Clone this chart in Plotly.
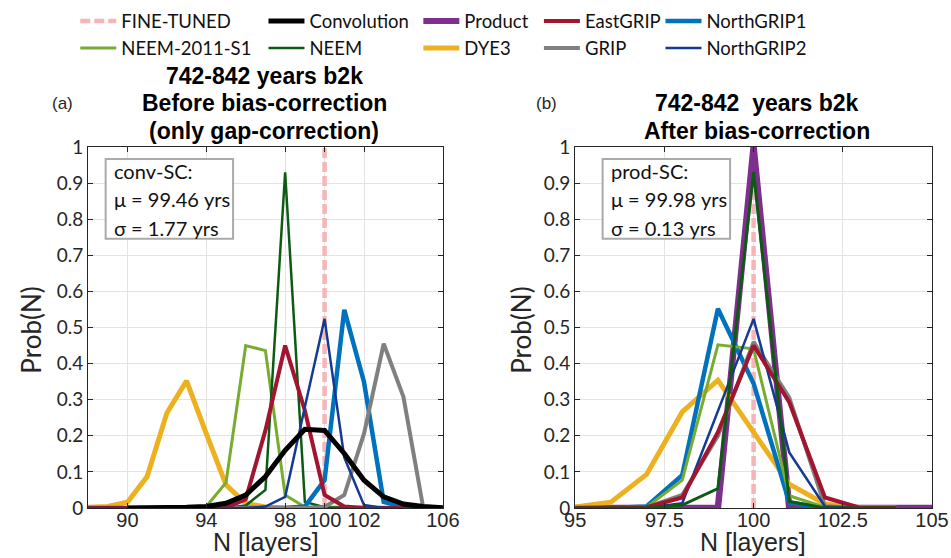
import plotly.graph_objects as go

# ---------------------------------------------------------------
# Layer-count probability distributions, 742-842 years b2k
# ---------------------------------------------------------------

# Panel (a): before bias-correction (only gap-correction)
n_left = [88, 89, 90, 91, 92, 93, 94, 95, 96, 97, 98, 99, 100, 101, 102, 103, 104, 105, 106]
left_dye3 = [0.002, 0.004, 0.016, 0.087, 0.263, 0.352, 0.206, 0.064, 0.013, 0.003, 0, 0, 0, 0, 0, 0, 0, 0, 0]
left_neem_s1 = [0, 0, 0, 0, 0, 0, 0.004, 0.07, 0.45, 0.436, 0.036, 0.003, 0, 0, 0, 0, 0, 0, 0]
left_neem = [0, 0, 0, 0, 0, 0, 0, 0, 0.007, 0.05, 0.93, 0.017, 0.002, 0, 0, 0, 0, 0, 0]
left_eastgrip = [0, 0, 0, 0, 0, 0, 0, 0.001, 0.024, 0.215, 0.45, 0.27, 0.036, 0.004, 0, 0, 0, 0, 0]
left_ngrip2 = [0, 0, 0, 0, 0, 0, 0, 0, 0, 0.004, 0.031, 0.28, 0.524, 0.14, 0.008, 0, 0, 0, 0]
left_ngrip1 = [0, 0, 0, 0, 0, 0, 0, 0, 0, 0, 0, 0.004, 0.077, 0.549, 0.349, 0.017, 0.003, 0, 0]
left_grip = [0, 0, 0, 0, 0, 0, 0, 0, 0, 0, 0, 0, 0.003, 0.036, 0.206, 0.455, 0.308, 0.002, 0]
n_conv = [90, 91, 92, 93, 94, 95, 96, 97, 98, 99, 100, 101, 102, 103, 104, 105, 106]
left_conv = [0, 0, 0.001, 0.002, 0.004, 0.013, 0.036, 0.087, 0.16, 0.218, 0.215, 0.151, 0.077, 0.031, 0.011, 0.004, 0.001]

# Panel (b): after bias-correction
n_right = [95, 96, 97, 98, 99, 100, 101, 102, 103, 104]
right_dye3 = [0.003, 0.016, 0.093, 0.266, 0.354, 0.213, 0.066, 0.011, 0.001, 0]
right_neem_s1 = [0, 0, 0.002, 0.077, 0.452, 0.441, 0.034, 0.002, 0, 0]
right_neem = [0, 0, 0, 0.008, 0.054, 0.93, 0.018, 0, 0, 0]
right_eastgrip = [0, 0, 0.002, 0.029, 0.21, 0.45, 0.293, 0.029, 0, 0]
right_ngrip2 = [0, 0, 0.001, 0.013, 0.27, 0.524, 0.154, 0.004, 0, 0]
right_ngrip1 = [0, 0, 0.004, 0.091, 0.552, 0.345, 0.015, 0, 0, 0]
right_grip = [0, 0, 0.002, 0.036, 0.2, 0.46, 0.306, 0.005, 0, 0]
n_prod = [95, 96, 97, 98, 99, 100, 101, 102, 103, 104, 105]
right_prod = [0, 0, 0, 0, 0, 1.0, 0, 0, 0, 0, 0]

fine_tuned_n = 100

left_ticks = [90, 94, 98, 100, 102, 106]
right_ticks = [95, 97.5, 100, 102.5, 105]
right_ticktext = ["95", "97.5", "100", "102.5", "105"]
y_ticks = [0, 0.1, 0.2, 0.3, 0.4, 0.5, 0.6, 0.7, 0.8, 0.9, 1]

conv_stats = ["conv-SC:", "\u03bc = 99.46 yrs", "\u03c3 = 1.77 yrs"]
prod_stats = ["prod-SC:", "\u03bc = 99.98 yrs", "\u03c3 = 0.13 yrs"]

# ---------------------------------------------------------------
# Styles
# ---------------------------------------------------------------
NARROW = "Liberation Sans Narrow, Arial Narrow, Liberation Sans, sans-serif"
SANS = "Lato, Calibri, Carlito, sans-serif"
AX = "#262626"
GRID = "#e3e3e3"

C_FINE = "#f7b5b8"
C_CONV = "#000000"
C_PROD = "#7e2f8e"
C_EGRIP = "#a2142f"
C_NGRIP1 = "#0072bd"
C_NEEM_S1 = "#77ac30"
C_NEEM = "#0d5a14"
C_DYE3 = "#edb120"
C_GRIP = "#808080"
C_NGRIP2 = "#143a94"

W, H = 951, 558
L, R, T, B = 88, 949, 146, 508


def px(x):
    return (x - L) / (R - L)


def py(y):
    return (B - y) / (B - T)


fig = go.Figure()


def add_line(x, y, name, color, width, xa, ya, legend=None, rank=1000, dash=None):
    fig.add_trace(go.Scatter(
        x=x, y=y, mode="lines", name=name,
        line=dict(color=color, width=width, dash=dash),
        xaxis=xa, yaxis=ya,
        showlegend=legend is not None,
        legend=legend if legend else "legend",
        legendrank=rank,
        hoverinfo="skip",
    ))


# panel (a); legend columns: (row 1, row 2)
add_line([fine_tuned_n, fine_tuned_n], [0, 1], "FINE-TUNED", C_FINE, 4.5, "x", "y", "legend", 1, "10px,4px")
add_line(n_left, left_dye3, "DYE3", C_DYE3, 5, "x", "y", "legend3", 2)
add_line(n_left, left_neem_s1, "NEEM-2011-S1", C_NEEM_S1, 3, "x", "y", "legend", 2)
add_line(n_left, left_neem, "NEEM", C_NEEM, 2.5, "x", "y", "legend2", 2)
add_line(n_left, left_ngrip1, "NorthGRIP1", C_NGRIP1, 4.5, "x", "y", "legend5", 1)
add_line(n_left, left_grip, "GRIP", C_GRIP, 4, "x", "y", "legend4", 2)
add_line(n_left, left_eastgrip, "EastGRIP", C_EGRIP, 4, "x", "y", "legend4", 1)
add_line(n_left, left_ngrip2, "NorthGRIP2", C_NGRIP2, 2.5, "x", "y", "legend5", 2)
add_line(n_conv, left_conv, "Convolution", C_CONV, 5, "x", "y", "legend2", 1)
add_line([None], [None], "Product", C_PROD, 6, "x", "y", "legend3", 1)

# panel (b)
add_line([fine_tuned_n, fine_tuned_n], [0, 1], "FINE-TUNED", C_FINE, 4.5, "x2", "y2", None, 1000, "10px,4px")
add_line(n_prod, right_prod, "Product", C_PROD, 6.5, "x2", "y2")
add_line(n_right, right_dye3, "DYE3", C_DYE3, 5, "x2", "y2")
add_line(n_right, right_ngrip1, "NorthGRIP1", C_NGRIP1, 4.5, "x2", "y2")
add_line(n_right, right_neem_s1, "NEEM-2011-S1", C_NEEM_S1, 3, "x2", "y2")
add_line(n_right, right_grip, "GRIP", C_GRIP, 4, "x2", "y2")
add_line(n_right, right_ngrip2, "NorthGRIP2", C_NGRIP2, 2.5, "x2", "y2")
add_line(n_right, right_eastgrip, "EastGRIP", C_EGRIP, 4, "x2", "y2")
add_line(n_right, right_neem, "NEEM", C_NEEM, 3, "x2", "y2")

axis_common = dict(
    showline=True, linecolor=AX, linewidth=1, mirror="ticks",
    ticks="inside", ticklen=5, tickcolor=AX, tickwidth=1,
    showgrid=True, gridcolor=GRID, gridwidth=1, zeroline=False,
)
xtick_font = dict(family=NARROW, size=20, color=AX)
ytick_font = dict(family=SANS, size=19, color=AX)

fig.update_layout(
    width=W, height=H,
    margin=dict(l=L, r=W - R, t=T, b=H - B, pad=0),
    paper_bgcolor="white", plot_bgcolor="white",
    xaxis=dict(domain=[0, px(450)], range=[88, 106], tickvals=left_ticks, tickangle=0,
               tickfont=xtick_font, ticklabelstandoff=-6, anchor="y", **axis_common),
    yaxis=dict(domain=[0, 1], range=[0, 1], tickvals=y_ticks,
               tickfont=ytick_font, anchor="x", **axis_common),
    xaxis2=dict(domain=[px(585), 1], range=[95, 105], tickvals=right_ticks, ticktext=right_ticktext,
                tickangle=0, tickfont=xtick_font, ticklabelstandoff=-6,
                anchor="y2", **axis_common),
    yaxis2=dict(domain=[0, 1], range=[0, 1], tickvals=y_ticks,
                tickfont=ytick_font, anchor="x2", **axis_common),
    showlegend=True,
)

# legend: five columns, two rows
leg_cols = [80, 272, 430, 553, 677]
for i, xc in enumerate(leg_cols):
    key = "legend" if i == 0 else f"legend{i + 1}"
    fig.update_layout(**{key: dict(
        x=px(xc - 5), y=py(1), xref="paper", yref="paper",
        xanchor="left", yanchor="top", orientation="v",
        bgcolor="rgba(0,0,0,0)", borderwidth=0, itemwidth=36,
        font=dict(family=SANS, size=18.5, color="#111111"),
        tracegroupgap=0, valign="middle", traceorder="normal",
    )})

annotations = []


def text(x, y, s, size, family, bold=False, color="#000000", anchor="center", angle=0):
    if bold:
        s = f"<b>{s}</b>"
    annotations.append(dict(
        x=px(x), y=py(y), xref="paper", yref="paper", text=s, showarrow=False,
        xanchor=anchor, yanchor="middle", textangle=angle,
        font=dict(family=family, size=size, color=color),
    ))


# titles
text(268, 75, "742-842 years b2k", 23, NARROW, bold=True)
text(268, 102, "Before bias-correction", 23, NARROW, bold=True)
text(268, 130, "(only gap-correction)", 23, NARROW, bold=True)
text(770, 102, "742-842\u00a0 years b2k", 23, NARROW, bold=True)
text(770, 130, "After bias-correction", 23, NARROW, bold=True)
text(62, 102, "(a)", 17, NARROW, color=AX)
text(556, 102, "(b)", 17, NARROW, color=AX)

# axis titles
text(30, 330, "Prob(N)", 26, SANS, color=AX, angle=-90)
text(530, 330, "Prob(N)", 26, SANS, color=AX, angle=-90)
text(270, 542, "N [layers]", 25, NARROW, color=AX)
text(766, 542, "N [layers]", 25, NARROW, color=AX)

# statistics boxes
shapes = []
for (x0, x1), lines in (((106, 236), conv_stats), ((613, 743), prod_stats)):
    shapes.append(dict(type="rect", xref="paper", yref="paper",
                       x0=px(x0), x1=px(x1), y0=py(238), y1=py(158),
                       line=dict(color="#aaaaaa", width=2), fillcolor="white", layer="above"))
    for k, s in enumerate(lines):
        text(x0 + 6, 170 + 28.5 * k, s, 20, SANS, color="#111111", anchor="left")

fig.update_layout(annotations=annotations, shapes=shapes)

fig.write_html("out.html")
